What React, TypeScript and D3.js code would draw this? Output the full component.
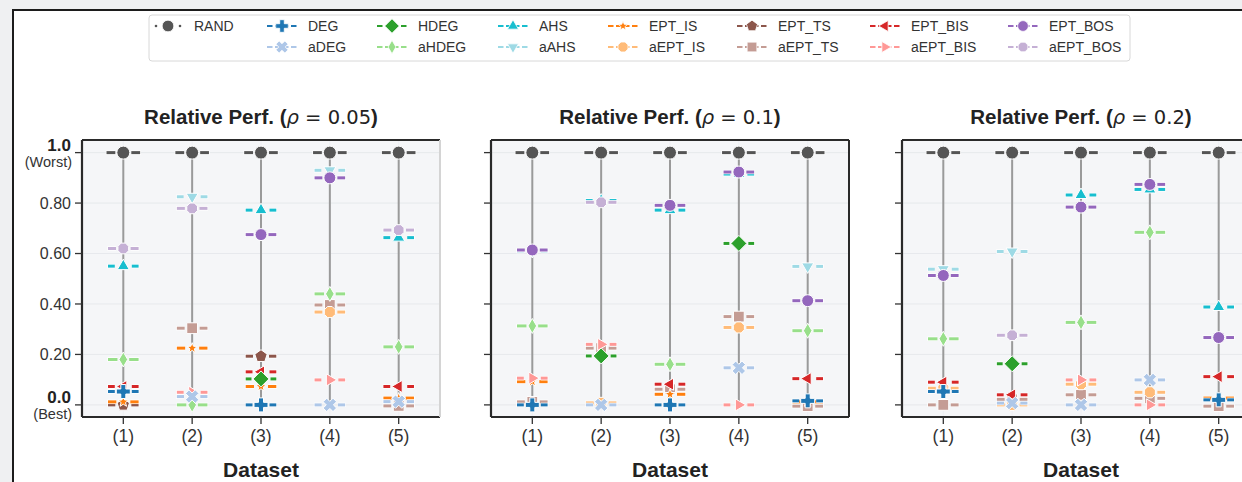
import React from "react";
import * as d3 from "d3";

// ---- data ----
const DATASETS = ["(1)", "(2)", "(3)", "(4)", "(5)"];
const RHOS = ["0.05", "0.1", "0.2"];
const METHODS = [
  "RAND", "DEG", "aDEG", "HDEG", "aHDEG", "AHS", "aAHS", "EPT_IS",
  "aEPT_IS", "EPT_TS", "aEPT_TS", "EPT_BIS", "aEPT_BIS", "EPT_BOS", "aEPT_BOS",
];
const COLORS = [
  "#555555", "#1f77b4", "#aec7e8", "#2ca02c", "#98df8a", "#17becf", "#9edae5", "#ff7f0e",
  "#ffbb78", "#8c564b", "#c49c94", "#d62728", "#ff9896", "#9467bd", "#c5b0d5",
];
const Y_TICKS = [0, 0.2, 0.4, 0.6, 0.8, 1.0];
const Y_TICK_LABELS = ["0.0", "0.20", "0.40", "0.60", "0.80", "1.0"];

// relative performance, one row per method, datasets (1)..(5); null = not visible
const PERF_RHO_005: Record<string, (number | null)[]> = {
  RAND: [1, 1, 1, 1, 1],
  DEG: [0.053, null, 0.0, null, null],
  aDEG: [null, 0.033, null, 0.0, 0.013],
  HDEG: [null, null, 0.103, null, null],
  aHDEG: [0.18, 0.0, null, 0.44, 0.23],
  AHS: [0.55, null, 0.772, null, 0.663],
  aAHS: [null, 0.825, null, 0.93, null],
  EPT_IS: [0.012, 0.225, 0.073, null, 0.027],
  aEPT_IS: [null, null, null, 0.368, null],
  EPT_TS: [0.0, null, 0.193, null, null],
  aEPT_TS: [null, 0.304, null, 0.396, -0.004],
  EPT_BIS: [0.073, null, 0.131, null, 0.073],
  aEPT_BIS: [null, 0.05, null, 0.099, null],
  EPT_BOS: [null, null, 0.675, 0.9, null],
  aEPT_BOS: [0.62, 0.779, null, null, 0.693],
};
const PERF_RHO_01: Record<string, (number | null)[]> = {
  RAND: [1, 1, 1, 1, 1],
  DEG: [0.0, null, 0.0, null, 0.016],
  aDEG: [null, 0.0, null, 0.147, null],
  HDEG: [null, 0.194, null, 0.64, null],
  aHDEG: [0.313, null, 0.161, null, 0.294],
  AHS: [null, 0.81, 0.772, 0.915, null],
  aAHS: [0.61, null, null, null, 0.549],
  EPT_IS: [0.092, null, 0.042, null, 0.012],
  aEPT_IS: [null, 0.008, null, 0.307, null],
  EPT_TS: [null, null, null, null, null],
  aEPT_TS: [0.012, 0.225, 0.062, 0.35, -0.005],
  EPT_BIS: [null, null, 0.082, null, 0.104],
  aEPT_BIS: [0.106, 0.24, null, 0.0, null],
  EPT_BOS: [0.614, null, 0.791, 0.923, 0.413],
  aEPT_BOS: [null, 0.803, null, null, null],
};
const PERF_RHO_02: Record<string, (number | null)[]> = {
  RAND: [1, 1, 1, 1, 1],
  DEG: [0.053, null, null, null, 0.02],
  aDEG: [null, 0.007, 0.0, 0.099, null],
  HDEG: [null, 0.163, null, null, null],
  aHDEG: [0.262, null, 0.327, 0.684, null],
  AHS: [null, null, 0.832, 0.854, 0.388],
  aAHS: [0.538, 0.608, null, null, null],
  EPT_IS: [null, null, null, null, 0.027],
  aEPT_IS: [0.066, 0.0, 0.082, 0.05, null],
  EPT_TS: [null, null, null, null, null],
  aEPT_TS: [0.0, 0.022, 0.04, 0.026, -0.005],
  EPT_BIS: [0.09, 0.04, null, null, 0.112],
  aEPT_BIS: [null, null, 0.099, 0.0, null],
  EPT_BOS: [0.513, null, 0.784, 0.874, 0.267],
  aEPT_BOS: [null, 0.276, null, null, null],
};
const PANELS = [PERF_RHO_005, PERF_RHO_01, PERF_RHO_02];

// drawing order (last one on top)
const DRAW_ORDER = [
  "aEPT_TS", "EPT_TS", "aEPT_IS", "EPT_IS", "aEPT_BIS", "EPT_BIS", "aAHS", "AHS",
  "aHDEG", "HDEG", "aDEG", "DEG", "aEPT_BOS", "EPT_BOS", "RAND",
];

// ---- marker shapes ----
type Mk = { kind: string; r: number };
const MARKERS: Record<string, Mk> = {
  RAND: { kind: "circle", r: 6.5 },
  DEG: { kind: "plus", r: 7 },
  aDEG: { kind: "x", r: 7 },
  HDEG: { kind: "diamond", r: 8 },
  aHDEG: { kind: "thin", r: 7.5 },
  AHS: { kind: "tri-up", r: 7 },
  aAHS: { kind: "tri-down", r: 7 },
  EPT_IS: { kind: "star", r: 5.5 },
  aEPT_IS: { kind: "oct", r: 6 },
  EPT_TS: { kind: "pent", r: 6.5 },
  aEPT_TS: { kind: "square", r: 6 },
  EPT_BIS: { kind: "tri-left", r: 7 },
  aEPT_BIS: { kind: "tri-right", r: 7 },
  EPT_BOS: { kind: "circle", r: 6 },
  aEPT_BOS: { kind: "oct", r: 5.8 },
};

const poly = (pts: [number, number][]) => "M" + pts.map((p) => p.map((v) => v.toFixed(2)).join(",")).join("L") + "Z";
const ngon = (n: number, r: number, rot: number) =>
  poly(d3.range(n).map((i) => {
    const a = rot + (i * 2 * Math.PI) / n;
    return [r * Math.cos(a), r * Math.sin(a)] as [number, number];
  }));

function markerPath(m: Mk): string {
  const r = m.r;
  const a = r * 0.36;
  const cross: [number, number][] = [
    [-a, -r], [a, -r], [a, -a], [r, -a], [r, a], [a, a], [a, r], [-a, r], [-a, a], [-r, a], [-r, -a], [-a, -a],
  ];
  switch (m.kind) {
    case "circle":
      return d3.arc()({ innerRadius: 0, outerRadius: r, startAngle: 0, endAngle: 2 * Math.PI } as any) as string;
    case "plus":
      return poly(cross);
    case "x":
      return poly(cross.map(([x, y]) => [(x - y) * Math.SQRT1_2, (x + y) * Math.SQRT1_2] as [number, number]));
    case "diamond":
      return poly([[0, -r], [r, 0], [0, r], [-r, 0]]);
    case "thin":
      return poly([[0, -r], [r * 0.58, 0], [0, r], [-r * 0.58, 0]]);
    case "tri-up":
      return ngon(3, r, -Math.PI / 2);
    case "tri-down":
      return ngon(3, r, Math.PI / 2);
    case "tri-left":
      return ngon(3, r, Math.PI);
    case "tri-right":
      return ngon(3, r, 0);
    case "pent":
      return ngon(5, r, -Math.PI / 2);
    case "oct":
      return ngon(8, r, Math.PI / 8);
    case "square":
      return poly([[-r * 0.9, -r * 0.9], [r * 0.9, -r * 0.9], [r * 0.9, r * 0.9], [-r * 0.9, r * 0.9]]);
    case "star":
      return poly(d3.range(10).map((i) => {
        const rr = i % 2 === 0 ? r : r * 0.42;
        const ang = -Math.PI / 2 + (i * Math.PI) / 5;
        return [rr * Math.cos(ang), rr * Math.sin(ang)] as [number, number];
      }));
  }
  return "";
}

const halfWidth = (m: Mk) => (m.kind === "thin" ? m.r * 0.58 : m.kind === "x" ? m.r * 0.95 : m.r);

// ---- layout ----
const W = 1242;
const H = 482;
const PANEL_LEFTS = [82, 491, 902];
const PANEL_W = 358;
const TOP = 140;
const BOTTOM = 417;
const FONT = "'Liberation Sans', Arial, sans-serif";
const LEGEND_COLS = [168, 282, 392, 513, 623, 752, 885, 1023];
const LEGEND_ROWS = [26, 47];

const y = d3.scaleLinear().domain([-0.048, 1.05]).range([BOTTOM, TOP]);

function Panel({ idx }: { idx: number }) {
  const left = PANEL_LEFTS[idx];
  const data = PANELS[idx];
  const x = d3.scalePoint<string>().domain(DATASETS).range([left, left + PANEL_W]).padding(0.6);
  const cx = left + PANEL_W / 2;
  return (
    <g>
      <rect x={left} y={TOP} width={PANEL_W} height={BOTTOM - TOP} fill="#f5f6f8" />
      {Y_TICKS.map((t) => (
        <line key={t} x1={left} x2={left + PANEL_W} y1={y(t)} y2={y(t)} stroke="#e2e4e8" strokeWidth={0.8} />
      ))}
      {DATASETS.map((d) => (
        <line key={d} x1={x(d)} x2={x(d)} y1={TOP} y2={BOTTOM} stroke="#eceef1" strokeWidth={0.8} />
      ))}
      {DATASETS.map((d) => (
        <line key={"v" + d} x1={x(d)} x2={x(d)} y1={y(1)} y2={y(0)} stroke="#9a9a9a" strokeWidth={2} />
      ))}
      {DRAW_ORDER.map((m) => {
        const mi = METHODS.indexOf(m);
        const mk = MARKERS[m];
        const col = COLORS[mi];
        const half = m === "RAND" ? 17.5 : 16;
        const gap = halfWidth(mk) + 1.5;
        return data[m].map((v, i) => {
          if (v === null) return null;
          const px = x(DATASETS[i])!;
          const py = y(v);
          return (
            <g key={m + i}>
              <line x1={px - half} x2={px - gap} y1={py} y2={py} stroke="#fff" strokeWidth={4.4} />
              <line x1={px + gap} x2={px + half} y1={py} y2={py} stroke="#fff" strokeWidth={4.4} />
              <line x1={px - half + 0.7} x2={px - gap} y1={py} y2={py} stroke={col} strokeWidth={3} />
              <line x1={px + gap} x2={px + half - 0.7} y1={py} y2={py} stroke={col} strokeWidth={3} />
              <path d={markerPath(mk)} transform={`translate(${px},${py})`} fill={col} stroke="#fff" strokeWidth={1} />
            </g>
          );
        });
      })}
      {/* spines */}
      <line x1={left} x2={left + PANEL_W} y1={TOP} y2={TOP} stroke="#2a2a2a" strokeWidth={2} />
      <line x1={left} x2={left + PANEL_W} y1={BOTTOM} y2={BOTTOM} stroke="#2a2a2a" strokeWidth={2.2} />
      <line x1={left} x2={left} y1={TOP} y2={BOTTOM} stroke="#2a2a2a" strokeWidth={2.2} />
      <line
        x1={left + PANEL_W}
        x2={left + PANEL_W}
        y1={TOP}
        y2={BOTTOM}
        stroke={idx === 0 ? "#d4d4d4" : "#2a2a2a"}
        strokeWidth={2}
      />
      {/* y ticks */}
      {Y_TICKS.map((t) => (
        <line key={"t" + t} x1={left - 7} x2={left} y1={y(t)} y2={y(t)} stroke="#333" strokeWidth={1.3} />
      ))}
      {idx === 0 &&
        Y_TICKS.map((t, i) => {
          const edge = t === 0 || t === 1;
          if (!edge)
            return (
              <text key={"l" + t} x={left - 11} y={y(t)} dy="0.35em" textAnchor="end" fontSize={16} fill="#333">
                {Y_TICK_LABELS[i]}
              </text>
            );
          return (
            <g key={"l" + t}>
              <text x={left - 11} y={y(t) - 1.5} textAnchor="end" fontSize={17} fontWeight="bold" fill="#222">
                {Y_TICK_LABELS[i]}
              </text>
              <text x={left - 10} y={y(t) + 14} textAnchor="end" fontSize={14.5} fill="#333">
                {t === 1 ? "(Worst)" : "(Best)"}
              </text>
            </g>
          );
        })}
      {/* x ticks */}
      {DATASETS.map((d) => (
        <g key={"x" + d}>
          <line x1={x(d)} x2={x(d)} y1={BOTTOM} y2={BOTTOM + 7} stroke="#333" strokeWidth={1.3} />
          <text x={x(d)} y={BOTTOM + 25} textAnchor="middle" fontSize={17.5} fill="#333">
            {d}
          </text>
        </g>
      ))}
      <text x={cx} y={477} textAnchor="middle" fontSize={21} fontWeight="bold" fill="#222">
        Dataset
      </text>
      <text x={cx} y={124} textAnchor="middle" fontSize={20.5} fill="#222">
        <tspan fontWeight="bold">Relative Perf. (</tspan>
        <tspan fontFamily="'DejaVu Sans'" fontStyle="italic" fontSize={19.5}>ρ</tspan>
        <tspan fontFamily="'DejaVu Sans'" fontSize={19.5}>{" = " + RHOS[idx]}</tspan>
        <tspan fontWeight="bold">)</tspan>
      </text>
    </g>
  );
}

function Legend() {
  return (
    <g>
      <rect x={149} y={15} width={981} height={46} rx={3} fill="#fff" stroke="#d8d8d8" strokeWidth={1} />
      {METHODS.map((m, mi) => {
        const col = mi === 0 ? 0 : Math.floor((mi - 1) / 2) + 1;
        const row = mi === 0 ? 0 : (mi - 1) % 2;
        const hx = LEGEND_COLS[col];
        const hy = LEGEND_ROWS[row];
        const c = COLORS[mi];
        const mk = MARKERS[m];
        return (
          <g key={m}>
            {m === "RAND" ? (
              <>
                <circle cx={hx - 12} cy={hy} r={1.3} fill={c} />
                <circle cx={hx + 12} cy={hy} r={1.3} fill={c} />
              </>
            ) : (
              <line x1={hx - 15} x2={hx + 15} y1={hy} y2={hy} stroke={c} strokeWidth={2.2} strokeDasharray="5.5 2.5" />
            )}
            <path
              d={markerPath({ kind: mk.kind, r: mk.r * 0.9 })}
              transform={`translate(${hx},${hy})`}
              fill={c}
              stroke="#fff"
              strokeWidth={0.8}
            />
            <text x={hx + 26} y={hy} dy="0.35em" fontSize={14} fill="#333">
              {m}
            </text>
          </g>
        );
      })}
    </g>
  );
}

export default function App() {
  return (
    <svg
      width={W}
      height={H}
      style={{ position: "fixed", left: 0, top: 0, fontFamily: FONT }}
    >
      <rect width={W} height={H} fill="#eff0f2" />
      <rect x={13} y={10} width={W + 20} height={H + 20} fill="#fff" stroke="#1c1c1c" strokeWidth={2} />
      <Legend />
      {PANEL_LEFTS.map((_, i) => (
        <Panel key={i} idx={i} />
      ))}
    </svg>
  );
}
